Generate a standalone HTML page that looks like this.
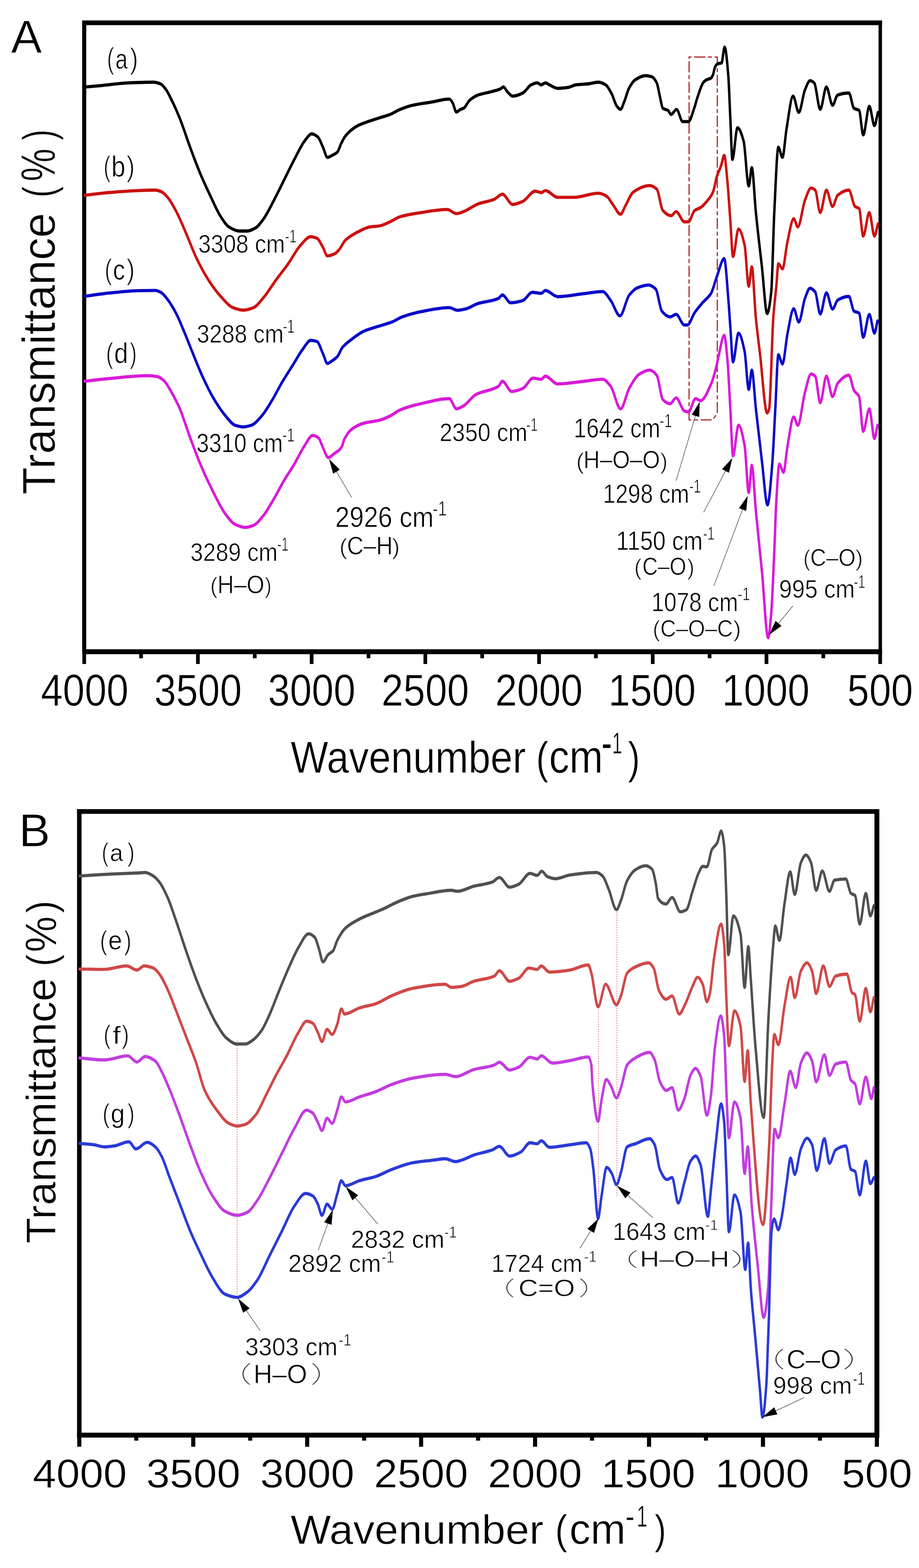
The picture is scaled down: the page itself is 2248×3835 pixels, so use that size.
<!DOCTYPE html>
<html><head><meta charset="utf-8"><title>FTIR spectra</title>
<style>html,body{margin:0;padding:0;background:#fff;}svg{display:block;}</style></head>
<body><svg xmlns="http://www.w3.org/2000/svg" width="2248" height="3835" viewBox="0 0 2248 3835">
<rect width="2248" height="3835" fill="#fff"/>
<rect x="201.0" y="50.0" width="1956.5" height="11.5" fill="#000"/>
<rect x="201.0" y="1588.0" width="1956.5" height="12.0" fill="#000"/>
<rect x="201.0" y="50.0" width="10.0" height="1550.0" fill="#000"/>
<rect x="2149.0" y="50.0" width="8.5" height="1550.0" fill="#000"/>
<rect x="201.5" y="1595.0" width="9.0" height="29.0" fill="#000"/>
<rect x="340.6" y="1595.0" width="9.0" height="15.0" fill="#000"/>
<rect x="479.6" y="1595.0" width="9.0" height="29.0" fill="#000"/>
<rect x="618.7" y="1595.0" width="9.0" height="15.0" fill="#000"/>
<rect x="757.8" y="1595.0" width="9.0" height="29.0" fill="#000"/>
<rect x="896.9" y="1595.0" width="9.0" height="15.0" fill="#000"/>
<rect x="1035.9" y="1595.0" width="9.0" height="29.0" fill="#000"/>
<rect x="1175.0" y="1595.0" width="9.0" height="15.0" fill="#000"/>
<rect x="1314.1" y="1595.0" width="9.0" height="29.0" fill="#000"/>
<rect x="1453.1" y="1595.0" width="9.0" height="15.0" fill="#000"/>
<rect x="1592.2" y="1595.0" width="9.0" height="29.0" fill="#000"/>
<rect x="1731.3" y="1595.0" width="9.0" height="15.0" fill="#000"/>
<rect x="1870.4" y="1595.0" width="9.0" height="29.0" fill="#000"/>
<rect x="2009.4" y="1595.0" width="9.0" height="15.0" fill="#000"/>
<rect x="2148.5" y="1595.0" width="9.0" height="29.0" fill="#000"/>
<path d="M1685.6,1027 V139.5 H1754.6 V1011 L1743,1027 Z" fill="none" stroke="#b03030" stroke-width="3" stroke-dasharray="27,6.5,10,6.5"/>
<path transform="scale(1,1.3)" d="M210.0,163.5 C223.3,162.6 236.7,161.7 250.0,160.8 C271.7,159.2 293.3,156.4 315.0,155.8 C335.0,155.2 355.0,154.6 375.0,154.6 C380.8,154.6 386.7,156.0 392.5,157.7 C396.7,158.9 400.8,163.2 405.0,167.3 C410.0,172.2 415.0,180.7 420.0,188.5 C426.7,198.8 433.3,210.3 440.0,223.1 C448.3,239.0 456.7,259.6 465.0,276.9 C473.3,294.2 481.7,311.6 490.0,326.9 C498.3,342.2 506.7,355.8 515.0,369.2 C523.3,382.7 531.7,397.9 540.0,407.7 C546.7,415.5 553.3,423.8 560.0,426.9 C568.3,430.9 576.7,434.6 585.0,434.6 C591.7,434.6 598.3,434.6 605.0,434.6 C611.7,434.6 618.3,431.7 625.0,428.8 C631.7,426.0 638.3,418.6 645.0,411.5 C653.3,402.7 661.7,389.1 670.0,376.9 C678.3,364.8 686.7,351.3 695.0,338.5 C703.3,325.6 711.7,312.1 720.0,300.0 C728.3,287.9 736.7,273.5 745.0,265.4 C750.8,259.7 756.7,251.9 762.5,251.9 C767.5,251.9 772.5,254.6 777.5,257.7 C781.7,260.3 785.8,270.1 790.0,276.9 C793.7,282.9 797.3,296.2 801.0,296.2 C804.8,296.2 808.7,293.8 812.5,292.3 C816.7,290.7 820.8,289.6 825.0,286.5 C828.3,284.1 831.7,274.3 835.0,269.2 C838.3,264.2 841.7,258.8 845.0,255.8 C855.0,246.5 865.0,240.7 875.0,236.5 C883.3,233.1 891.7,231.2 900.0,228.8 C909.7,226.2 919.3,223.9 929.0,221.5 C937.3,219.5 945.7,217.9 954.0,215.4 C962.3,212.9 970.7,208.3 979.0,205.8 C989.0,202.7 999.0,199.8 1009.0,198.1 C1024.0,195.5 1039.0,194.2 1054.0,192.3 C1069.0,190.4 1084.0,186.5 1099.0,186.5 C1101.5,186.5 1104.0,189.6 1106.5,192.3 C1109.8,195.9 1113.2,210.8 1116.5,210.8 C1119.8,210.8 1123.2,206.9 1126.5,205.8 C1129.0,204.9 1131.5,204.8 1134.0,203.8 C1139.0,201.9 1144.0,191.8 1149.0,188.5 C1155.7,184.0 1162.3,180.7 1169.0,178.8 C1179.0,176.0 1189.0,175.2 1199.0,173.1 C1207.3,171.3 1215.7,170.2 1224.0,167.3 C1226.5,166.5 1229.0,163.5 1231.5,163.5 C1234.8,163.5 1238.2,170.6 1241.5,173.1 C1245.7,176.2 1249.8,180.8 1254.0,180.8 C1262.3,180.8 1270.7,178.0 1279.0,175.0 C1285.7,172.6 1292.3,162.1 1299.0,159.6 C1304.0,157.7 1309.0,155.8 1314.0,155.8 C1317.3,155.8 1320.7,159.6 1324.0,159.6 C1327.3,159.6 1330.7,155.8 1334.0,155.8 C1337.3,155.8 1340.7,158.4 1344.0,159.6 C1350.7,162.0 1357.3,166.2 1364.0,166.2 C1372.3,166.2 1380.7,165.5 1389.0,164.6 C1395.7,163.9 1402.3,160.3 1409.0,159.6 C1419.0,158.6 1429.0,158.5 1439.0,157.7 C1447.3,157.0 1455.7,154.6 1464.0,154.6 C1469.8,154.6 1475.7,156.9 1481.5,159.6 C1486.5,161.9 1491.5,169.8 1496.5,176.9 C1500.7,182.9 1504.8,196.1 1509.0,200.0 C1512.0,202.8 1515.0,205.8 1518.0,205.8 C1520.8,205.8 1523.7,197.4 1526.5,192.3 C1530.7,184.8 1534.8,171.2 1539.0,165.4 C1544.0,158.4 1549.0,152.5 1554.0,150.0 C1562.3,145.9 1570.7,142.3 1579.0,142.3 C1584.0,142.3 1589.0,143.1 1594.0,144.2 C1598.2,145.2 1602.3,149.4 1606.5,155.8 C1609.0,159.6 1611.5,172.8 1614.0,180.8 C1616.5,188.8 1619.0,202.3 1621.5,203.8 C1625.7,206.3 1629.8,205.6 1634.0,207.7 C1636.5,208.9 1639.0,215.4 1641.5,215.4 C1646.0,215.4 1650.5,205.8 1655.0,205.8 C1660.0,205.8 1665.0,228.8 1670.0,228.8 C1674.7,228.8 1679.3,228.8 1684.0,228.8 C1689.0,228.8 1694.0,212.5 1699.0,201.5 C1701.2,196.8 1703.3,189.5 1705.5,184.6 C1710.7,172.9 1715.8,159.3 1721.0,154.6 C1723.2,152.6 1725.3,151.3 1727.5,150.4 C1731.5,148.7 1735.5,148.9 1739.5,146.7 C1741.0,145.9 1742.5,143.4 1744.0,140.8 C1745.8,137.5 1747.7,127.8 1749.5,125.4 C1751.7,122.5 1753.8,120.3 1756.0,119.8 C1759.0,119.0 1762.0,119.3 1765.0,118.5 C1767.5,117.7 1770.0,88.5 1772.5,88.5 C1775.5,88.5 1778.5,114.9 1781.5,142.3 C1783.2,157.5 1784.8,196.8 1786.5,223.1 C1788.2,249.3 1789.8,300.0 1791.5,300.0 C1795.7,300.0 1799.8,240.4 1804.0,240.4 C1809.0,240.4 1814.0,251.8 1819.0,265.4 C1823.2,276.7 1827.3,350.0 1831.5,350.0 C1834.0,350.0 1836.5,315.4 1839.0,315.4 C1842.3,315.4 1845.7,374.4 1849.0,400.0 C1854.0,438.3 1859.0,469.3 1864.0,503.8 C1868.2,532.6 1872.3,590.0 1876.5,590.0 C1879.8,590.0 1883.2,573.0 1886.5,550.0 C1889.0,532.8 1891.5,438.5 1894.0,400.0 C1897.3,348.6 1900.7,276.9 1904.0,276.9 C1907.3,276.9 1910.7,296.2 1914.0,296.2 C1917.3,296.2 1920.7,257.5 1924.0,242.3 C1929.3,218.1 1934.7,180.8 1940.0,180.8 C1944.7,180.8 1949.3,211.5 1954.0,211.5 C1959.0,211.5 1964.0,178.4 1969.0,169.2 C1973.2,161.6 1977.3,151.9 1981.5,151.9 C1984.8,151.9 1988.2,153.6 1991.5,155.8 C1996.5,159.0 2001.5,205.8 2006.5,205.8 C2011.5,205.8 2016.5,163.5 2021.5,163.5 C2026.5,163.5 2031.5,198.1 2036.5,198.1 C2040.7,198.1 2044.8,180.0 2049.0,178.8 C2058.2,176.2 2067.3,175.0 2076.5,175.0 C2080.7,175.0 2084.8,201.6 2089.0,203.8 C2093.2,206.1 2097.3,205.2 2101.5,207.7 C2104.8,209.7 2108.2,253.8 2111.5,253.8 C2116.5,253.8 2121.5,200.0 2126.5,200.0 C2130.7,200.0 2134.8,236.5 2139.0,236.5 C2141.8,236.5 2144.7,219.9 2147.5,211.5" fill="none" stroke="#000000" stroke-width="6" stroke-linejoin="round" stroke-linecap="round"/>
<path transform="scale(1,1.3)" d="M207.5,367.3 C226.7,365.6 245.8,363.6 265.0,362.3 C290.0,360.7 315.0,359.1 340.0,358.5 C353.3,358.1 366.7,357.7 380.0,357.7 C385.0,357.7 390.0,359.2 395.0,360.8 C400.0,362.4 405.0,366.8 410.0,371.2 C416.7,377.0 423.3,386.6 430.0,396.2 C438.3,408.1 446.7,423.7 455.0,438.5 C463.3,453.2 471.7,471.2 480.0,484.6 C490.0,500.7 500.0,515.0 510.0,526.9 C520.0,538.8 530.0,549.3 540.0,557.7 C550.0,566.0 560.0,576.0 570.0,578.8 C578.3,581.2 586.7,583.5 595.0,583.5 C603.3,583.5 611.7,581.3 620.0,578.8 C628.3,576.4 636.7,567.1 645.0,559.6 C655.0,550.6 665.0,537.5 675.0,526.9 C685.0,516.4 695.0,507.0 705.0,496.2 C715.0,485.3 725.0,469.8 735.0,461.5 C743.3,454.7 751.7,445.4 760.0,445.4 C765.0,445.4 770.0,446.5 775.0,448.1 C780.0,449.6 785.0,458.9 790.0,465.4 C793.7,470.2 797.3,481.5 801.0,481.5 C807.3,481.5 813.7,479.4 820.0,476.9 C823.3,475.6 826.7,472.3 830.0,469.2 C835.0,464.7 840.0,455.6 845.0,451.9 C855.0,444.5 865.0,440.5 875.0,436.5 C885.0,432.6 895.0,428.2 905.0,426.9 C913.0,425.9 921.0,426.0 929.0,425.0 C937.3,423.9 945.7,420.2 954.0,417.3 C962.3,414.5 970.7,409.6 979.0,407.7 C995.7,403.8 1012.3,401.9 1029.0,400.0 C1050.7,397.5 1072.3,394.2 1094.0,394.2 C1101.5,394.2 1109.0,401.9 1116.5,401.9 C1122.3,401.9 1128.2,399.7 1134.0,398.1 C1145.7,394.9 1157.3,387.2 1169.0,383.8 C1182.3,380.0 1195.7,379.2 1209.0,375.0 C1215.7,372.9 1222.3,365.4 1229.0,365.4 C1237.3,365.4 1245.7,384.6 1254.0,384.6 C1262.3,384.6 1270.7,381.6 1279.0,378.8 C1289.0,375.5 1299.0,359.6 1309.0,359.6 C1314.0,359.6 1319.0,362.3 1324.0,362.3 C1327.3,362.3 1330.7,358.5 1334.0,358.5 C1344.0,358.5 1354.0,371.2 1364.0,371.2 C1377.3,371.2 1390.7,371.2 1404.0,371.2 C1424.0,371.2 1444.0,363.5 1464.0,363.5 C1470.7,363.5 1477.3,366.1 1484.0,369.2 C1489.0,371.5 1494.0,379.6 1499.0,384.6 C1505.3,390.9 1511.7,403.1 1518.0,403.1 C1521.7,403.1 1525.3,393.4 1529.0,388.5 C1535.7,379.6 1542.3,365.1 1549.0,361.5 C1562.3,354.4 1575.7,349.2 1589.0,349.2 C1594.8,349.2 1600.7,351.9 1606.5,355.8 C1611.5,359.1 1616.5,391.9 1621.5,396.2 C1628.2,401.8 1634.8,405.8 1641.5,405.8 C1645.7,405.8 1649.8,398.1 1654.0,398.1 C1660.7,398.1 1667.3,417.3 1674.0,417.3 C1677.3,417.3 1680.7,417.3 1684.0,417.3 C1689.0,417.3 1694.0,399.2 1699.0,396.2 C1704.0,393.1 1709.0,392.9 1714.0,390.4 C1719.0,387.8 1724.0,383.5 1729.0,378.8 C1734.0,374.2 1739.0,370.2 1744.0,361.5 C1747.3,355.8 1750.7,338.7 1754.0,330.8 C1757.3,322.9 1760.7,318.9 1764.0,311.5 C1766.5,306.0 1769.0,292.3 1771.5,292.3 C1774.0,292.3 1776.5,319.2 1779.0,338.5 C1781.5,357.7 1784.0,389.6 1786.5,415.4 C1788.7,437.7 1790.8,482.7 1793.0,482.7 C1797.5,482.7 1802.0,430.8 1806.5,430.8 C1811.5,430.8 1816.5,444.7 1821.5,461.5 C1824.8,472.8 1828.2,538.5 1831.5,538.5 C1834.0,538.5 1836.5,501.9 1839.0,501.9 C1842.3,501.9 1845.7,572.5 1849.0,598.8 C1852.3,625.1 1855.7,643.6 1859.0,665.4 C1864.8,703.4 1870.7,776.9 1876.5,776.9 C1878.2,776.9 1879.8,773.5 1881.5,769.2 C1884.8,760.6 1888.2,634.7 1891.5,598.8 C1894.0,572.0 1896.5,559.1 1899.0,538.5 C1900.7,524.7 1902.3,496.2 1904.0,496.2 C1907.3,496.2 1910.7,505.8 1914.0,505.8 C1918.2,505.8 1922.3,467.9 1926.5,453.8 C1931.5,436.9 1936.5,411.5 1941.5,411.5 C1944.8,411.5 1948.2,426.9 1951.5,426.9 C1957.3,426.9 1963.2,388.5 1969.0,376.9 C1974.0,367.0 1979.0,353.8 1984.0,353.8 C1987.3,353.8 1990.7,355.5 1994.0,357.7 C1998.2,360.5 2002.3,400.0 2006.5,400.0 C2011.5,400.0 2016.5,357.7 2021.5,357.7 C2026.5,357.7 2031.5,388.5 2036.5,388.5 C2040.7,388.5 2044.8,369.9 2049.0,367.3 C2058.2,361.5 2067.3,357.7 2076.5,357.7 C2081.5,357.7 2086.5,385.4 2091.5,388.5 C2094.8,390.5 2098.2,389.9 2101.5,392.3 C2104.8,394.7 2108.2,444.2 2111.5,444.2 C2116.5,444.2 2121.5,400.0 2126.5,400.0 C2130.7,400.0 2134.8,444.2 2139.0,444.2 C2141.8,444.2 2144.7,428.8 2147.5,421.2" fill="none" stroke="#cc1111" stroke-width="6" stroke-linejoin="round" stroke-linecap="round"/>
<path transform="scale(1,1.3)" d="M207.5,557.3 C226.7,555.4 245.8,553.0 265.0,551.5 C290.0,549.6 315.0,547.3 340.0,546.9 C353.3,546.7 366.7,546.5 380.0,546.5 C385.0,546.5 390.0,548.7 395.0,550.8 C400.0,552.9 405.0,558.5 410.0,563.5 C416.7,570.1 423.3,578.8 430.0,588.5 C436.7,598.1 443.3,610.9 450.0,623.1 C456.7,635.2 463.3,649.0 470.0,661.5 C478.3,677.2 486.7,693.7 495.0,707.7 C503.3,721.7 511.7,735.1 520.0,746.2 C530.0,759.4 540.0,771.6 550.0,780.8 C558.3,788.4 566.7,797.9 575.0,800.0 C581.7,801.7 588.3,803.1 595.0,803.1 C601.7,803.1 608.3,801.6 615.0,800.0 C623.3,798.0 631.7,789.9 640.0,782.7 C648.3,775.5 656.7,764.3 665.0,753.8 C673.3,743.4 681.7,730.1 690.0,719.2 C698.3,708.4 706.7,698.7 715.0,688.5 C723.3,678.2 731.7,666.1 740.0,657.7 C746.7,651.0 753.3,640.4 760.0,640.4 C765.0,640.4 770.0,641.1 775.0,642.3 C780.0,643.5 785.0,657.3 790.0,665.4 C793.7,671.3 797.3,683.8 801.0,683.8 C804.8,683.8 808.7,680.8 812.5,678.8 C816.7,676.7 820.8,674.7 825.0,671.2 C829.2,667.6 833.3,657.8 837.5,653.8 C845.0,646.8 852.5,642.9 860.0,638.5 C870.0,632.6 880.0,626.5 890.0,623.1 C903.0,618.6 916.0,616.3 929.0,613.1 C939.0,610.6 949.0,608.8 959.0,605.8 C967.3,603.3 975.7,598.5 984.0,596.2 C999.0,591.9 1014.0,588.8 1029.0,586.5 C1052.3,583.1 1075.7,578.8 1099.0,578.8 C1105.7,578.8 1112.3,583.8 1119.0,583.8 C1125.7,583.8 1132.3,582.4 1139.0,581.2 C1149.0,579.3 1159.0,573.6 1169.0,571.2 C1185.7,567.0 1202.3,567.2 1219.0,561.5 C1222.3,560.4 1225.7,555.0 1229.0,555.0 C1235.7,555.0 1242.3,569.6 1249.0,569.6 C1259.0,569.6 1269.0,567.8 1279.0,565.4 C1286.7,563.5 1294.3,550.0 1302.0,550.0 C1309.3,550.0 1316.7,551.9 1324.0,551.9 C1327.3,551.9 1330.7,546.5 1334.0,546.5 C1344.0,546.5 1354.0,558.1 1364.0,558.1 C1385.7,558.1 1407.3,554.2 1429.0,552.3 C1444.0,551.0 1459.0,548.5 1474.0,548.5 C1480.7,548.5 1487.3,558.6 1494.0,565.4 C1501.5,573.0 1509.0,594.2 1516.5,594.2 C1524.0,594.2 1531.5,562.7 1539.0,555.4 C1545.7,548.9 1552.3,543.7 1559.0,541.5 C1568.0,538.7 1577.0,536.2 1586.0,536.2 C1592.0,536.2 1598.0,539.3 1604.0,543.8 C1609.0,547.6 1614.0,580.7 1619.0,585.4 C1625.7,591.6 1632.3,596.2 1639.0,596.2 C1644.0,596.2 1649.0,591.5 1654.0,591.5 C1660.7,591.5 1667.3,611.5 1674.0,611.5 C1676.5,611.5 1679.0,611.5 1681.5,611.5 C1687.3,611.5 1693.2,595.0 1699.0,588.5 C1705.7,581.0 1712.3,575.2 1719.0,569.2 C1725.7,563.2 1732.3,560.6 1739.0,552.3 C1744.0,546.1 1749.0,529.4 1754.0,519.2 C1759.8,507.4 1765.7,486.5 1771.5,486.5 C1774.8,486.5 1778.2,531.5 1781.5,561.5 C1783.2,576.6 1784.8,598.0 1786.5,615.4 C1788.7,638.0 1790.8,680.8 1793.0,680.8 C1797.5,680.8 1802.0,626.9 1806.5,626.9 C1811.5,626.9 1816.5,643.5 1821.5,661.5 C1824.8,673.6 1828.2,732.7 1831.5,732.7 C1834.0,732.7 1836.5,696.2 1839.0,696.2 C1842.3,696.2 1845.7,745.9 1849.0,769.2 C1854.0,804.2 1859.0,837.7 1864.0,869.2 C1868.5,897.6 1873.0,950.0 1877.5,950.0 C1881.3,950.0 1885.2,908.5 1889.0,873.1 C1891.5,850.0 1894.0,803.5 1896.5,769.2 C1899.0,734.9 1901.5,667.3 1904.0,667.3 C1907.3,667.3 1910.7,684.6 1914.0,684.6 C1918.2,684.6 1922.3,642.4 1926.5,626.9 C1931.5,608.3 1936.5,580.8 1941.5,580.8 C1945.7,580.8 1949.8,605.8 1954.0,605.8 C1959.0,605.8 1964.0,571.6 1969.0,561.5 C1973.2,553.2 1977.3,542.3 1981.5,542.3 C1985.7,542.3 1989.8,545.3 1994.0,549.2 C1998.2,553.2 2002.3,590.8 2006.5,590.8 C2011.5,590.8 2016.5,550.8 2021.5,550.8 C2026.5,550.8 2031.5,581.5 2036.5,581.5 C2040.7,581.5 2044.8,566.6 2049.0,564.6 C2058.2,560.4 2067.3,557.7 2076.5,557.7 C2080.7,557.7 2084.8,583.1 2089.0,585.4 C2093.2,587.6 2097.3,586.7 2101.5,589.2 C2104.8,591.2 2108.2,634.6 2111.5,634.6 C2116.5,634.6 2121.5,591.5 2126.5,591.5 C2130.7,591.5 2134.8,626.9 2139.0,626.9 C2141.5,626.9 2144.0,611.5 2146.5,603.8" fill="none" stroke="#0808c8" stroke-width="6" stroke-linejoin="round" stroke-linecap="round"/>
<path transform="scale(1,1.3)" d="M207.5,717.3 C226.7,715.6 245.8,713.6 265.0,712.3 C296.7,710.1 328.3,706.9 360.0,706.9 C368.3,706.9 376.7,707.5 385.0,708.5 C390.0,709.0 395.0,712.2 400.0,715.4 C406.7,719.7 413.3,729.7 420.0,738.5 C426.7,747.3 433.3,757.3 440.0,769.2 C448.3,784.1 456.7,805.8 465.0,823.1 C473.3,840.4 481.7,857.9 490.0,873.1 C500.0,891.3 510.0,907.8 520.0,923.1 C530.0,938.4 540.0,954.9 550.0,965.4 C558.3,974.1 566.7,983.5 575.0,986.5 C583.3,989.6 591.7,992.3 600.0,992.3 C606.7,992.3 613.3,990.5 620.0,988.5 C628.3,986.0 636.7,977.1 645.0,969.2 C653.3,961.3 661.7,949.3 670.0,938.5 C678.3,927.6 686.7,914.7 695.0,903.8 C703.3,893.0 711.7,883.9 720.0,873.1 C728.3,862.2 736.7,847.9 745.0,838.5 C751.7,830.9 758.3,819.2 765.0,819.2 C770.0,819.2 775.0,821.4 780.0,824.6 C782.7,826.3 785.3,834.2 788.0,838.5 C793.2,846.7 798.3,860.8 803.5,860.8 C808.3,860.8 813.2,855.7 818.0,853.1 C822.5,850.6 827.0,849.1 831.5,845.4 C833.3,843.9 835.2,841.5 837.0,838.5 C838.7,835.7 840.3,829.5 842.0,826.9 C848.0,817.5 854.0,811.2 860.0,807.7 C870.0,801.8 880.0,798.3 890.0,796.2 C903.0,793.3 916.0,793.1 929.0,790.4 C937.3,788.7 945.7,785.8 954.0,782.7 C962.3,779.6 970.7,773.8 979.0,771.2 C995.7,765.8 1012.3,762.5 1029.0,759.6 C1052.3,755.5 1075.7,750.0 1099.0,750.0 C1104.8,750.0 1110.7,769.2 1116.5,769.2 C1122.3,769.2 1128.2,766.0 1134.0,763.5 C1144.0,759.1 1154.0,746.5 1164.0,742.3 C1182.3,734.6 1200.7,736.0 1219.0,726.9 C1222.3,725.3 1225.7,717.3 1229.0,717.3 C1236.5,717.3 1244.0,736.5 1251.5,736.5 C1260.7,736.5 1269.8,733.8 1279.0,730.8 C1287.3,728.0 1295.7,711.5 1304.0,711.5 C1310.7,711.5 1317.3,713.5 1324.0,713.5 C1327.3,713.5 1330.7,707.7 1334.0,707.7 C1344.0,707.7 1354.0,722.3 1364.0,722.3 C1385.7,722.3 1407.3,719.1 1429.0,717.3 C1444.0,716.1 1459.0,713.5 1474.0,713.5 C1480.7,713.5 1487.3,720.5 1494.0,726.9 C1502.0,734.6 1510.0,769.2 1518.0,769.2 C1525.0,769.2 1532.0,740.3 1539.0,730.8 C1547.3,719.4 1555.7,707.8 1564.0,703.8 C1572.3,699.9 1580.7,696.2 1589.0,696.2 C1594.8,696.2 1600.7,700.4 1606.5,706.2 C1611.5,711.1 1616.5,748.0 1621.5,751.9 C1627.3,756.5 1633.2,759.6 1639.0,759.6 C1644.0,759.6 1649.0,748.5 1654.0,748.5 C1660.7,748.5 1667.3,771.0 1674.0,773.1 C1677.3,774.1 1680.7,775.0 1684.0,775.0 C1689.8,775.0 1695.7,750.0 1701.5,750.0 C1705.7,750.0 1709.8,753.8 1714.0,753.8 C1722.3,753.8 1730.7,737.3 1739.0,723.1 C1743.2,716.0 1747.3,704.7 1751.5,692.3 C1754.0,684.9 1756.5,673.3 1759.0,665.4 C1763.2,652.2 1767.3,630.8 1771.5,630.8 C1774.0,630.8 1776.5,653.5 1779.0,673.1 C1781.5,692.7 1784.0,736.2 1786.5,769.2 C1788.7,797.9 1790.8,857.7 1793.0,857.7 C1797.5,857.7 1802.0,800.0 1806.5,800.0 C1811.5,800.0 1816.5,817.8 1821.5,838.5 C1824.8,852.2 1828.2,926.9 1831.5,926.9 C1834.0,926.9 1836.5,875.4 1839.0,875.4 C1842.3,875.4 1845.7,934.3 1849.0,961.5 C1854.0,1002.3 1859.0,1037.2 1864.0,1076.9 C1869.0,1116.6 1874.0,1200.0 1879.0,1200.0 C1881.5,1200.0 1884.0,1175.8 1886.5,1153.8 C1889.0,1131.9 1891.5,1081.5 1894.0,1038.5 C1895.7,1009.8 1897.3,963.6 1899.0,942.3 C1901.5,910.4 1904.0,873.1 1906.5,873.1 C1909.8,873.1 1913.2,888.5 1916.5,888.5 C1919.8,888.5 1923.2,852.5 1926.5,838.5 C1931.5,817.3 1936.5,784.6 1941.5,784.6 C1944.8,784.6 1948.2,800.0 1951.5,800.0 C1957.3,800.0 1963.2,754.6 1969.0,738.5 C1974.0,724.6 1979.0,703.8 1984.0,703.8 C1987.3,703.8 1990.7,705.4 1994.0,707.7 C1998.2,710.5 2002.3,757.7 2006.5,757.7 C2011.5,757.7 2016.5,707.7 2021.5,707.7 C2026.5,707.7 2031.5,746.2 2036.5,746.2 C2040.7,746.2 2044.8,725.1 2049.0,721.2 C2058.2,712.5 2067.3,705.8 2076.5,705.8 C2080.7,705.8 2084.8,729.1 2089.0,734.6 C2093.2,740.1 2097.3,739.2 2101.5,746.2 C2104.8,751.7 2108.2,811.5 2111.5,811.5 C2116.5,811.5 2121.5,769.2 2126.5,769.2 C2130.7,769.2 2134.8,825.0 2139.0,825.0 C2141.5,825.0 2144.0,808.3 2146.5,800.0" fill="none" stroke="#d91ad9" stroke-width="6" stroke-linejoin="round" stroke-linecap="round"/>
<line x1="859.8" y1="1216.0" x2="821.0" y2="1150.2" stroke="#222" stroke-width="1.7" stroke-dasharray="2.5,1.2"/>
<polygon points="804.8,1122.6 831.3,1148.8 814.9,1158.4" fill="#000"/>
<line x1="1654.0" y1="1175.0" x2="1702.3" y2="1013.2" stroke="#222" stroke-width="1.7" stroke-dasharray="2.5,1.2"/>
<polygon points="1711.5,982.5 1710.3,1019.7 1692.1,1014.3" fill="#000"/>
<line x1="1721.5" y1="1252.5" x2="1776.6" y2="1148.3" stroke="#222" stroke-width="1.7" stroke-dasharray="2.5,1.2"/>
<polygon points="1791.5,1120.0 1783.1,1156.3 1766.3,1147.4" fill="#000"/>
<line x1="1746.5" y1="1432.5" x2="1817.8" y2="1242.5" stroke="#222" stroke-width="1.7" stroke-dasharray="2.5,1.2"/>
<polygon points="1829.0,1212.5 1825.3,1249.5 1807.5,1242.9" fill="#000"/>
<line x1="1939.0" y1="1482.5" x2="1901.8" y2="1527.8" stroke="#222" stroke-width="1.7" stroke-dasharray="2.5,1.2"/>
<polygon points="1881.5,1552.5 1897.0,1518.7 1911.7,1530.7" fill="#000"/>
<rect x="188.5" y="1979.0" width="1962.5" height="11.5" fill="#000"/>
<rect x="188.5" y="3504.0" width="1962.5" height="12.0" fill="#000"/>
<rect x="188.5" y="1979.0" width="11.0" height="1537.0" fill="#000"/>
<rect x="2139.0" y="1979.0" width="12.0" height="1537.0" fill="#000"/>
<rect x="189.0" y="3510.0" width="10.0" height="28.5" fill="#000"/>
<rect x="328.4" y="3510.0" width="10.0" height="13.5" fill="#000"/>
<rect x="467.7" y="3510.0" width="10.0" height="28.5" fill="#000"/>
<rect x="607.1" y="3510.0" width="10.0" height="13.5" fill="#000"/>
<rect x="746.4" y="3510.0" width="10.0" height="28.5" fill="#000"/>
<rect x="885.8" y="3510.0" width="10.0" height="13.5" fill="#000"/>
<rect x="1025.1" y="3510.0" width="10.0" height="28.5" fill="#000"/>
<rect x="1164.5" y="3510.0" width="10.0" height="13.5" fill="#000"/>
<rect x="1303.9" y="3510.0" width="10.0" height="28.5" fill="#000"/>
<rect x="1443.2" y="3510.0" width="10.0" height="13.5" fill="#000"/>
<rect x="1582.6" y="3510.0" width="10.0" height="28.5" fill="#000"/>
<rect x="1721.9" y="3510.0" width="10.0" height="13.5" fill="#000"/>
<rect x="1861.3" y="3510.0" width="10.0" height="28.5" fill="#000"/>
<rect x="2000.6" y="3510.0" width="10.0" height="13.5" fill="#000"/>
<rect x="2140.0" y="3510.0" width="10.0" height="28.5" fill="#000"/>
<line x1="580" y1="2545" x2="580" y2="3175" stroke="#d87070" stroke-width="1.6" stroke-dasharray="3,3"/>
<line x1="1464" y1="2462" x2="1464" y2="2980" stroke="#d87070" stroke-width="1.6" stroke-dasharray="3,3"/>
<line x1="1509" y1="2225" x2="1509" y2="2927" stroke="#d87070" stroke-width="1.6" stroke-dasharray="3,3"/>
<path transform="scale(1,1.3)" d="M195.0,1648.1 C206.7,1647.4 218.3,1646.7 230.0,1646.2 C246.7,1645.4 263.3,1644.8 280.0,1644.2 C300.0,1643.5 320.0,1643.1 340.0,1642.3 C345.0,1642.1 350.0,1641.5 355.0,1641.5 C361.7,1641.5 368.3,1645.0 375.0,1648.1 C380.0,1650.4 385.0,1654.7 390.0,1659.6 C396.7,1666.2 403.3,1677.0 410.0,1688.5 C416.7,1699.9 423.3,1716.1 430.0,1730.8 C438.3,1749.1 446.7,1769.9 455.0,1788.5 C463.3,1807.0 471.7,1825.7 480.0,1842.3 C488.3,1858.9 496.7,1874.5 505.0,1888.5 C513.3,1902.4 521.7,1916.4 530.0,1926.9 C538.3,1937.5 546.7,1948.9 555.0,1953.8 C563.3,1958.8 571.7,1964.2 580.0,1964.2 C586.7,1964.2 593.3,1964.2 600.0,1964.2 C606.7,1964.2 613.3,1959.6 620.0,1955.8 C626.7,1952.0 633.3,1945.8 640.0,1938.5 C646.7,1931.1 653.3,1919.1 660.0,1907.7 C666.7,1896.3 673.3,1881.8 680.0,1869.2 C688.3,1853.5 696.7,1837.4 705.0,1823.1 C713.3,1808.7 721.7,1793.2 730.0,1782.7 C738.3,1772.2 746.7,1756.9 755.0,1756.9 C760.0,1756.9 765.0,1759.7 770.0,1763.5 C773.3,1766.0 776.7,1777.0 780.0,1784.6 C783.3,1792.3 786.7,1809.6 790.0,1809.6 C794.2,1809.6 798.3,1799.4 802.5,1796.2 C806.7,1792.9 810.8,1792.4 815.0,1788.5 C818.3,1785.3 821.7,1774.2 825.0,1769.2 C831.7,1759.3 838.3,1750.9 845.0,1746.2 C856.7,1737.8 868.3,1733.5 880.0,1728.8 C892.8,1723.8 905.7,1720.4 918.5,1716.2 C927.0,1713.3 935.5,1710.7 944.0,1707.7 C952.3,1704.7 960.7,1700.9 969.0,1698.1 C982.3,1693.6 995.7,1689.1 1009.0,1686.5 C1020.7,1684.3 1032.3,1683.0 1044.0,1681.5 C1064.0,1679.0 1084.0,1675.0 1104.0,1675.0 C1109.0,1675.0 1114.0,1676.9 1119.0,1676.9 C1132.3,1676.9 1145.7,1670.0 1159.0,1667.3 C1174.0,1664.3 1189.0,1663.7 1204.0,1659.6 C1209.8,1658.0 1215.7,1650.8 1221.5,1650.8 C1229.8,1650.8 1238.2,1669.2 1246.5,1669.2 C1254.0,1669.2 1261.5,1666.3 1269.0,1663.5 C1278.2,1660.0 1287.3,1643.1 1296.5,1643.1 C1302.3,1643.1 1308.2,1646.9 1314.0,1646.9 C1317.7,1646.9 1321.3,1639.2 1325.0,1639.2 C1329.7,1639.2 1334.3,1647.8 1339.0,1649.2 C1345.7,1651.3 1352.3,1653.1 1359.0,1653.1 C1370.7,1653.1 1382.3,1647.4 1394.0,1646.2 C1415.7,1643.8 1437.3,1641.5 1459.0,1641.5 C1464.0,1641.5 1469.0,1644.6 1474.0,1648.1 C1479.0,1651.5 1484.0,1664.0 1489.0,1673.1 C1495.3,1684.6 1501.7,1711.5 1508.0,1711.5 C1511.7,1711.5 1515.3,1700.9 1519.0,1693.8 C1524.0,1684.2 1529.0,1664.3 1534.0,1656.9 C1540.7,1647.1 1547.3,1639.8 1554.0,1636.5 C1562.3,1632.5 1570.7,1628.8 1579.0,1628.8 C1584.3,1628.8 1589.7,1631.3 1595.0,1635.4 C1598.0,1637.7 1601.0,1650.4 1604.0,1661.5 C1606.0,1668.9 1608.0,1688.6 1610.0,1690.8 C1616.3,1697.8 1622.7,1700.8 1629.0,1700.8 C1634.0,1700.8 1639.0,1688.5 1644.0,1688.5 C1650.7,1688.5 1657.3,1715.4 1664.0,1715.4 C1669.0,1715.4 1674.0,1713.8 1679.0,1711.5 C1684.0,1709.2 1689.0,1688.5 1694.0,1676.9 C1699.0,1665.4 1704.0,1650.2 1709.0,1642.3 C1712.3,1637.1 1715.7,1630.0 1719.0,1630.0 C1722.3,1630.0 1725.7,1630.8 1729.0,1630.8 C1733.2,1630.8 1737.3,1603.8 1741.5,1598.1 C1745.7,1592.4 1749.8,1592.1 1754.0,1586.5 C1757.3,1582.1 1760.7,1563.5 1764.0,1563.5 C1766.5,1563.5 1769.0,1575.8 1771.5,1592.3 C1773.2,1603.3 1774.8,1647.4 1776.5,1680.8 C1778.2,1714.2 1779.8,1796.2 1781.5,1796.2 C1785.7,1796.2 1789.8,1723.1 1794.0,1723.1 C1799.8,1723.1 1805.7,1737.2 1811.5,1757.7 C1814.8,1769.4 1818.2,1857.7 1821.5,1857.7 C1824.5,1857.7 1827.5,1780.8 1830.5,1780.8 C1832.5,1780.8 1834.5,1821.1 1836.5,1842.3 C1840.3,1882.9 1844.2,1936.7 1848.0,1969.2 C1854.7,2025.8 1861.3,2102.3 1868.0,2102.3 C1872.0,2102.3 1876.0,1965.4 1880.0,1911.5 C1883.8,1859.9 1887.7,1809.2 1891.5,1776.9 C1893.2,1762.9 1894.8,1742.3 1896.5,1742.3 C1899.8,1742.3 1903.2,1769.2 1906.5,1769.2 C1910.7,1769.2 1914.8,1720.1 1919.0,1700.0 C1923.7,1677.5 1928.3,1640.4 1933.0,1640.4 C1936.7,1640.4 1940.3,1682.7 1944.0,1682.7 C1949.0,1682.7 1954.0,1632.0 1959.0,1623.1 C1963.2,1615.7 1967.3,1608.5 1971.5,1608.5 C1975.7,1608.5 1979.8,1615.5 1984.0,1623.1 C1988.2,1630.7 1992.3,1675.0 1996.5,1675.0 C2001.5,1675.0 2006.5,1638.5 2011.5,1638.5 C2017.3,1638.5 2023.2,1676.9 2029.0,1676.9 C2033.2,1676.9 2037.3,1656.4 2041.5,1655.8 C2050.7,1654.4 2059.8,1653.8 2069.0,1653.8 C2073.2,1653.8 2077.3,1678.1 2081.5,1680.8 C2084.8,1682.9 2088.2,1682.3 2091.5,1684.6 C2095.3,1687.3 2099.2,1738.5 2103.0,1738.5 C2108.0,1738.5 2113.0,1680.8 2118.0,1680.8 C2121.7,1680.8 2125.3,1723.1 2129.0,1723.1 C2131.8,1723.1 2134.7,1710.3 2137.5,1703.8" fill="none" stroke="#505050" stroke-width="6" stroke-linejoin="round" stroke-linecap="round"/>
<path transform="scale(1,1.3)" d="M195.0,1823.1 C215.0,1823.3 235.0,1823.8 255.0,1823.8 C273.3,1823.8 291.7,1817.3 310.0,1817.3 C318.3,1817.3 326.7,1825.0 335.0,1825.0 C340.8,1825.0 346.7,1817.3 352.5,1817.3 C360.0,1817.3 367.5,1819.0 375.0,1821.2 C380.0,1822.6 385.0,1827.7 390.0,1832.7 C396.7,1839.3 403.3,1850.5 410.0,1861.5 C416.7,1872.5 423.3,1886.9 430.0,1900.0 C438.3,1916.3 446.7,1933.3 455.0,1950.0 C463.3,1966.7 471.7,1981.4 480.0,2000.0 C486.7,2014.9 493.3,2038.5 500.0,2050.0 C510.0,2067.3 520.0,2078.4 530.0,2088.5 C540.0,2098.6 550.0,2109.7 560.0,2113.5 C566.7,2115.9 573.3,2118.5 580.0,2118.5 C586.7,2118.5 593.3,2117.0 600.0,2115.4 C608.3,2113.3 616.7,2105.9 625.0,2098.1 C633.3,2090.2 641.7,2074.0 650.0,2061.5 C658.3,2049.0 666.7,2035.2 675.0,2023.1 C683.3,2010.9 691.7,2000.6 700.0,1988.5 C710.0,1973.9 720.0,1954.7 730.0,1942.3 C736.7,1934.1 743.3,1921.2 750.0,1921.2 C755.0,1921.2 760.0,1922.8 765.0,1925.0 C769.2,1926.8 773.3,1935.9 777.5,1942.3 C780.8,1947.5 784.2,1959.6 787.5,1959.6 C791.7,1959.6 795.8,1936.5 800.0,1936.5 C804.2,1936.5 808.3,1946.2 812.5,1946.2 C816.7,1946.2 820.8,1935.4 825.0,1926.9 C828.3,1920.2 831.7,1898.1 835.0,1898.1 C837.5,1898.1 840.0,1907.7 842.5,1907.7 C855.0,1907.7 867.5,1899.2 880.0,1896.2 C893.0,1893.0 906.0,1891.8 919.0,1888.5 C932.3,1885.0 945.7,1877.3 959.0,1873.1 C975.7,1867.8 992.3,1862.1 1009.0,1859.6 C1035.7,1855.7 1062.3,1851.9 1089.0,1851.9 C1094.0,1851.9 1099.0,1857.7 1104.0,1857.7 C1112.3,1857.7 1120.7,1856.8 1129.0,1855.8 C1139.0,1854.6 1149.0,1848.6 1159.0,1846.2 C1175.7,1842.1 1192.3,1842.5 1209.0,1836.5 C1213.2,1835.1 1217.3,1826.2 1221.5,1826.2 C1229.8,1826.2 1238.2,1846.2 1246.5,1846.2 C1254.0,1846.2 1261.5,1843.2 1269.0,1840.4 C1277.3,1837.2 1285.7,1821.2 1294.0,1821.2 C1300.7,1821.2 1307.3,1823.8 1314.0,1823.8 C1317.3,1823.8 1320.7,1817.3 1324.0,1817.3 C1330.7,1817.3 1337.3,1828.8 1344.0,1828.8 C1360.7,1828.8 1377.3,1826.9 1394.0,1825.0 C1409.0,1823.3 1424.0,1815.4 1439.0,1815.4 C1441.5,1815.4 1444.0,1824.3 1446.5,1830.8 C1452.0,1844.9 1457.5,1894.2 1463.0,1894.2 C1469.2,1894.2 1475.3,1851.9 1481.5,1851.9 C1490.3,1851.9 1499.2,1890.4 1508.0,1890.4 C1511.7,1890.4 1515.3,1880.4 1519.0,1873.1 C1524.0,1863.1 1529.0,1835.7 1534.0,1830.8 C1540.7,1824.2 1547.3,1821.5 1554.0,1819.2 C1564.8,1815.5 1575.7,1811.5 1586.5,1811.5 C1590.7,1811.5 1594.8,1816.2 1599.0,1821.5 C1603.3,1827.1 1607.7,1857.3 1612.0,1863.8 C1617.7,1872.4 1623.3,1880.0 1629.0,1880.0 C1634.0,1880.0 1639.0,1873.8 1644.0,1873.8 C1649.8,1873.8 1655.7,1907.7 1661.5,1907.7 C1666.5,1907.7 1671.5,1896.0 1676.5,1888.5 C1682.3,1879.6 1688.2,1865.0 1694.0,1855.8 C1698.2,1849.2 1702.3,1838.5 1706.5,1838.5 C1710.7,1838.5 1714.8,1845.0 1719.0,1851.9 C1722.3,1857.4 1725.7,1884.6 1729.0,1884.6 C1731.5,1884.6 1734.0,1876.8 1736.5,1869.2 C1739.8,1859.1 1743.2,1820.1 1746.5,1803.8 C1752.3,1775.4 1758.2,1738.5 1764.0,1738.5 C1766.5,1738.5 1769.0,1755.9 1771.5,1776.9 C1773.2,1791.0 1774.8,1845.4 1776.5,1873.1 C1778.7,1909.1 1780.8,1967.3 1783.0,1967.3 C1787.5,1967.3 1792.0,1901.9 1796.5,1901.9 C1801.5,1901.9 1806.5,1913.8 1811.5,1930.8 C1814.8,1942.1 1818.2,2034.6 1821.5,2034.6 C1824.0,2034.6 1826.5,1976.9 1829.0,1976.9 C1831.5,1976.9 1834.0,2050.3 1836.5,2075.8 C1846.5,2177.7 1856.5,2303.8 1866.5,2303.8 C1871.5,2303.8 1876.5,2223.7 1881.5,2153.8 C1884.0,2118.9 1886.5,2034.6 1889.0,2000.0 C1890.7,1976.9 1892.3,1946.2 1894.0,1946.2 C1897.3,1946.2 1900.7,1965.4 1904.0,1965.4 C1909.0,1965.4 1914.0,1913.0 1919.0,1892.3 C1924.0,1871.6 1929.0,1838.5 1934.0,1838.5 C1937.3,1838.5 1940.7,1876.9 1944.0,1876.9 C1949.0,1876.9 1954.0,1834.8 1959.0,1826.9 C1964.0,1819.1 1969.0,1811.5 1974.0,1811.5 C1978.2,1811.5 1982.3,1818.8 1986.5,1826.9 C1989.8,1833.4 1993.2,1869.2 1996.5,1869.2 C2002.3,1869.2 2008.2,1817.3 2014.0,1817.3 C2019.0,1817.3 2024.0,1855.8 2029.0,1855.8 C2034.0,1855.8 2039.0,1837.9 2044.0,1836.5 C2053.2,1834.0 2062.3,1832.7 2071.5,1832.7 C2075.7,1832.7 2079.8,1863.9 2084.0,1867.3 C2086.5,1869.4 2089.0,1869.0 2091.5,1871.2 C2095.3,1874.5 2099.2,1921.2 2103.0,1921.2 C2108.0,1921.2 2113.0,1859.6 2118.0,1859.6 C2121.7,1859.6 2125.3,1903.8 2129.0,1903.8 C2131.8,1903.8 2134.7,1885.9 2137.5,1876.9" fill="none" stroke="#d04848" stroke-width="6" stroke-linejoin="round" stroke-linecap="round"/>
<path transform="scale(1,1.3)" d="M195.0,1990.4 C215.0,1991.7 235.0,1994.2 255.0,1994.2 C274.2,1994.2 293.3,1986.5 312.5,1986.5 C320.0,1986.5 327.5,1998.1 335.0,1998.1 C341.7,1998.1 348.3,1987.7 355.0,1987.7 C363.3,1987.7 371.7,1991.5 380.0,1996.2 C385.0,1999.0 390.0,2008.1 395.0,2015.4 C401.7,2025.1 408.3,2037.7 415.0,2050.0 C423.3,2065.4 431.7,2082.7 440.0,2100.0 C448.3,2117.3 456.7,2136.6 465.0,2153.8 C473.3,2171.1 481.7,2189.3 490.0,2203.8 C500.0,2221.3 510.0,2238.2 520.0,2250.0 C530.0,2261.8 540.0,2274.8 550.0,2278.8 C560.0,2282.9 570.0,2286.5 580.0,2286.5 C588.3,2286.5 596.7,2283.8 605.0,2280.8 C613.3,2277.7 621.7,2266.9 630.0,2257.7 C640.0,2246.6 650.0,2230.1 660.0,2215.4 C670.0,2200.7 680.0,2184.6 690.0,2169.2 C700.0,2153.8 710.0,2136.3 720.0,2123.1 C730.0,2109.9 740.0,2088.5 750.0,2088.5 C755.0,2088.5 760.0,2091.2 765.0,2094.2 C769.2,2096.8 773.3,2105.5 777.5,2111.5 C780.8,2116.4 784.2,2126.9 787.5,2126.9 C791.7,2126.9 795.8,2103.8 800.0,2103.8 C804.2,2103.8 808.3,2113.5 812.5,2113.5 C816.7,2113.5 820.8,2097.8 825.0,2088.5 C828.3,2081.0 831.7,2063.5 835.0,2063.5 C838.3,2063.5 841.7,2073.1 845.0,2073.1 C856.7,2073.1 868.3,2066.5 880.0,2063.5 C893.0,2060.1 906.0,2057.6 919.0,2053.8 C932.3,2050.0 945.7,2043.7 959.0,2040.0 C975.7,2035.4 992.3,2030.7 1009.0,2028.5 C1035.7,2024.9 1062.3,2021.2 1089.0,2021.2 C1097.3,2021.2 1105.7,2025.4 1114.0,2025.4 C1129.0,2025.4 1144.0,2015.5 1159.0,2012.3 C1175.7,2008.7 1192.3,2008.3 1209.0,2003.8 C1213.2,2002.7 1217.3,1998.5 1221.5,1998.5 C1229.8,1998.5 1238.2,2013.1 1246.5,2013.1 C1254.0,2013.1 1261.5,2010.3 1269.0,2007.7 C1278.2,2004.5 1287.3,1989.2 1296.5,1989.2 C1302.3,1989.2 1308.2,1992.3 1314.0,1992.3 C1317.3,1992.3 1320.7,1986.5 1324.0,1986.5 C1333.2,1986.5 1342.3,2000.0 1351.5,2000.0 C1365.7,2000.0 1379.8,1997.2 1394.0,1995.4 C1409.0,1993.5 1424.0,1988.5 1439.0,1988.5 C1441.5,1988.5 1444.0,1993.7 1446.5,2003.8 C1447.3,2007.2 1448.2,2031.5 1449.0,2038.5 C1453.7,2077.3 1458.3,2109.6 1463.0,2109.6 C1465.8,2109.6 1468.7,2080.5 1471.5,2069.2 C1475.3,2054.1 1479.2,2030.8 1483.0,2030.8 C1486.7,2030.8 1490.3,2037.6 1494.0,2042.3 C1498.7,2048.2 1503.3,2065.4 1508.0,2065.4 C1511.7,2065.4 1515.3,2054.0 1519.0,2046.2 C1524.0,2035.5 1529.0,2009.4 1534.0,2003.8 C1540.7,1996.4 1547.3,1993.2 1554.0,1990.4 C1565.7,1985.4 1577.3,1980.0 1589.0,1980.0 C1593.2,1980.0 1597.3,1987.2 1601.5,1994.2 C1605.7,2001.2 1609.8,2027.8 1614.0,2034.6 C1619.3,2043.3 1624.7,2051.5 1630.0,2051.5 C1634.7,2051.5 1639.3,2046.2 1644.0,2046.2 C1649.0,2046.2 1654.0,2088.5 1659.0,2088.5 C1664.0,2088.5 1669.0,2076.8 1674.0,2067.3 C1679.0,2057.8 1684.0,2030.7 1689.0,2023.1 C1693.2,2016.7 1697.3,2010.0 1701.5,2010.0 C1705.7,2010.0 1709.8,2017.4 1714.0,2025.4 C1719.0,2035.0 1724.0,2098.1 1729.0,2098.1 C1732.3,2098.1 1735.7,2079.0 1739.0,2061.5 C1742.3,2044.1 1745.7,1988.6 1749.0,1969.2 C1753.7,1942.1 1758.3,1911.5 1763.0,1911.5 C1765.8,1911.5 1768.7,1928.1 1771.5,1950.0 C1773.2,1962.9 1774.8,2018.4 1776.5,2046.2 C1778.7,2082.2 1780.8,2140.4 1783.0,2140.4 C1787.5,2140.4 1792.0,2073.1 1796.5,2073.1 C1801.5,2073.1 1806.5,2085.9 1811.5,2103.8 C1814.8,2115.8 1818.2,2207.7 1821.5,2207.7 C1824.0,2207.7 1826.5,2157.7 1829.0,2157.7 C1832.3,2157.7 1835.7,2238.5 1839.0,2269.2 C1844.0,2315.3 1849.0,2348.8 1854.0,2384.6 C1858.7,2418.0 1863.3,2478.5 1868.0,2478.5 C1871.7,2478.5 1875.3,2453.9 1879.0,2423.1 C1881.5,2402.1 1884.0,2317.3 1886.5,2269.2 C1889.2,2217.9 1891.8,2124.6 1894.5,2124.6 C1897.7,2124.6 1900.8,2140.4 1904.0,2140.4 C1909.0,2140.4 1914.0,2098.5 1919.0,2076.9 C1923.7,2056.8 1928.3,2015.4 1933.0,2015.4 C1937.5,2015.4 1942.0,2046.2 1946.5,2046.2 C1950.7,2046.2 1954.8,2008.0 1959.0,2000.0 C1964.0,1990.3 1969.0,1980.8 1974.0,1980.8 C1978.2,1980.8 1982.3,1988.2 1986.5,1996.2 C1989.8,2002.5 1993.2,2035.4 1996.5,2035.4 C2003.2,2035.4 2009.8,1984.6 2016.5,1984.6 C2020.7,1984.6 2024.8,2023.1 2029.0,2023.1 C2034.0,2023.1 2039.0,2003.4 2044.0,2001.9 C2052.3,1999.4 2060.7,1998.1 2069.0,1998.1 C2073.2,1998.1 2077.3,2027.8 2081.5,2032.3 C2084.8,2035.9 2088.2,2035.5 2091.5,2039.2 C2095.3,2043.5 2099.2,2076.9 2103.0,2076.9 C2108.0,2076.9 2113.0,2026.2 2118.0,2026.2 C2122.5,2026.2 2127.0,2066.9 2131.5,2066.9 C2133.5,2066.9 2135.5,2053.1 2137.5,2046.2" fill="none" stroke="#c23ce0" stroke-width="6" stroke-linejoin="round" stroke-linecap="round"/>
<path transform="scale(1,1.3)" d="M195.0,2151.2 C206.7,2152.1 218.3,2152.6 230.0,2153.8 C238.3,2154.7 246.7,2157.7 255.0,2157.7 C263.3,2157.7 271.7,2156.7 280.0,2155.8 C291.7,2154.5 303.3,2148.1 315.0,2148.1 C320.8,2148.1 326.7,2161.5 332.5,2161.5 C341.7,2161.5 350.8,2149.2 360.0,2149.2 C366.7,2149.2 373.3,2153.5 380.0,2157.7 C385.0,2160.9 390.0,2167.8 395.0,2175.0 C401.7,2184.7 408.3,2202.0 415.0,2215.4 C423.3,2232.1 431.7,2248.7 440.0,2265.4 C448.3,2282.1 456.7,2300.1 465.0,2315.4 C473.3,2330.7 481.7,2344.2 490.0,2357.7 C500.0,2373.8 510.0,2391.5 520.0,2403.8 C530.0,2416.2 540.0,2431.2 550.0,2434.6 C560.0,2438.0 570.0,2440.8 580.0,2440.8 C588.3,2440.8 596.7,2435.4 605.0,2430.8 C613.3,2426.1 621.7,2417.2 630.0,2407.7 C640.0,2396.2 650.0,2376.9 660.0,2361.5 C670.0,2346.2 680.0,2330.8 690.0,2315.4 C700.0,2300.0 710.0,2280.3 720.0,2269.2 C729.2,2259.1 738.3,2245.4 747.5,2245.4 C753.3,2245.4 759.2,2247.4 765.0,2250.0 C769.2,2251.9 773.3,2258.8 777.5,2265.4 C780.8,2270.6 784.2,2286.5 787.5,2286.5 C791.7,2286.5 795.8,2265.4 800.0,2265.4 C804.2,2265.4 808.3,2275.0 812.5,2275.0 C816.7,2275.0 820.8,2256.2 825.0,2246.2 C828.3,2238.1 831.7,2221.2 835.0,2221.2 C838.3,2221.2 841.7,2230.8 845.0,2230.8 C856.7,2230.8 868.3,2223.8 880.0,2221.2 C893.0,2218.2 906.0,2216.7 919.0,2213.5 C932.3,2210.1 945.7,2203.8 959.0,2200.0 C975.7,2195.2 992.3,2190.1 1009.0,2187.7 C1025.7,2185.3 1042.3,2184.3 1059.0,2182.7 C1069.0,2181.8 1079.0,2180.0 1089.0,2180.0 C1097.3,2180.0 1105.7,2185.4 1114.0,2185.4 C1119.0,2185.4 1124.0,2183.8 1129.0,2182.7 C1139.0,2180.5 1149.0,2175.7 1159.0,2173.1 C1174.0,2169.2 1189.0,2167.7 1204.0,2163.5 C1209.8,2161.8 1215.7,2156.9 1221.5,2156.9 C1229.8,2156.9 1238.2,2175.0 1246.5,2175.0 C1255.7,2175.0 1264.8,2171.1 1274.0,2167.3 C1281.5,2164.2 1289.0,2150.0 1296.5,2150.0 C1302.3,2150.0 1308.2,2151.9 1314.0,2151.9 C1317.3,2151.9 1320.7,2146.2 1324.0,2146.2 C1330.7,2146.2 1337.3,2158.5 1344.0,2158.5 C1360.7,2158.5 1377.3,2155.4 1394.0,2153.8 C1407.3,2152.6 1420.7,2150.0 1434.0,2150.0 C1437.3,2150.0 1440.7,2155.1 1444.0,2161.5 C1446.5,2166.4 1449.0,2184.6 1451.5,2200.0 C1455.3,2223.6 1459.2,2292.3 1463.0,2292.3 C1465.8,2292.3 1468.7,2263.1 1471.5,2250.0 C1475.7,2230.7 1479.8,2196.2 1484.0,2196.2 C1488.2,2196.2 1492.3,2202.5 1496.5,2207.7 C1500.3,2212.4 1504.2,2228.8 1508.0,2228.8 C1511.7,2228.8 1515.3,2214.7 1519.0,2205.4 C1524.0,2192.7 1529.0,2160.4 1534.0,2157.7 C1540.7,2154.0 1547.3,2153.8 1554.0,2151.9 C1565.7,2148.6 1577.3,2142.3 1589.0,2142.3 C1593.2,2142.3 1597.3,2147.7 1601.5,2153.8 C1605.7,2160.0 1609.8,2192.7 1614.0,2200.0 C1619.8,2210.2 1625.7,2219.2 1631.5,2219.2 C1635.7,2219.2 1639.8,2215.4 1644.0,2215.4 C1649.0,2215.4 1654.0,2263.5 1659.0,2263.5 C1664.0,2263.5 1669.0,2238.1 1674.0,2225.0 C1679.0,2211.9 1684.0,2190.5 1689.0,2184.6 C1693.2,2179.7 1697.3,2175.0 1701.5,2175.0 C1705.7,2175.0 1709.8,2183.4 1714.0,2192.3 C1719.8,2204.8 1725.7,2288.5 1731.5,2288.5 C1734.0,2288.5 1736.5,2255.9 1739.0,2238.5 C1743.2,2209.4 1747.3,2172.5 1751.5,2146.2 C1755.7,2119.8 1759.8,2076.9 1764.0,2076.9 C1766.5,2076.9 1769.0,2092.5 1771.5,2111.5 C1773.2,2124.2 1774.8,2170.2 1776.5,2200.0 C1778.7,2238.7 1780.8,2317.3 1783.0,2317.3 C1787.5,2317.3 1792.0,2248.1 1796.5,2248.1 C1801.5,2248.1 1806.5,2262.6 1811.5,2280.8 C1815.3,2294.7 1819.2,2388.5 1823.0,2388.5 C1825.3,2388.5 1827.7,2338.5 1830.0,2338.5 C1832.2,2338.5 1834.3,2400.4 1836.5,2423.1 C1840.1,2461.0 1843.8,2484.3 1847.4,2515.4 C1851.3,2548.4 1855.1,2582.4 1859.0,2615.4 C1861.0,2632.4 1863.0,2666.2 1865.0,2666.2 C1868.2,2666.2 1871.4,2638.2 1874.6,2604.6 C1875.7,2592.7 1876.9,2561.4 1878.0,2538.5 C1879.1,2516.8 1880.1,2497.4 1881.2,2470.8 C1882.3,2443.3 1883.4,2396.6 1884.5,2370.0 C1885.3,2349.9 1886.2,2325.4 1887.0,2319.2 C1889.2,2303.1 1891.3,2293.1 1893.5,2293.1 C1897.0,2293.1 1900.5,2313.8 1904.0,2313.8 C1906.3,2313.8 1908.7,2302.8 1911.0,2294.6 C1915.3,2279.5 1919.7,2248.5 1924.0,2226.9 C1927.3,2210.3 1930.7,2178.8 1934.0,2178.8 C1937.3,2178.8 1940.7,2209.6 1944.0,2209.6 C1949.0,2209.6 1954.0,2171.0 1959.0,2161.5 C1964.0,2152.1 1969.0,2141.5 1974.0,2141.5 C1978.2,2141.5 1982.3,2147.1 1986.5,2153.8 C1990.3,2160.0 1994.2,2201.9 1998.0,2201.9 C2004.2,2201.9 2010.3,2142.3 2016.5,2142.3 C2020.7,2142.3 2024.8,2188.5 2029.0,2188.5 C2034.0,2188.5 2039.0,2166.2 2044.0,2163.5 C2052.3,2158.9 2060.7,2155.8 2069.0,2155.8 C2073.2,2155.8 2077.3,2197.2 2081.5,2200.0 C2084.8,2202.2 2088.2,2201.6 2091.5,2203.8 C2095.3,2206.5 2099.2,2248.1 2103.0,2248.1 C2108.0,2248.1 2113.0,2184.6 2118.0,2184.6 C2121.7,2184.6 2125.3,2226.9 2129.0,2226.9 C2131.8,2226.9 2134.7,2219.2 2137.5,2215.4" fill="none" stroke="#2a3ad8" stroke-width="6" stroke-linejoin="round" stroke-linecap="round"/>
<line x1="635.8" y1="3253.6" x2="600.4" y2="3202.1" stroke="#222" stroke-width="1.7" stroke-dasharray="2.5,1.2"/>
<polygon points="582.3,3175.7 610.5,3200.0 594.8,3210.8" fill="#000"/>
<line x1="778.6" y1="3057.0" x2="803.4" y2="2988.7" stroke="#222" stroke-width="1.7" stroke-dasharray="2.5,1.2"/>
<polygon points="814.3,2958.6 811.0,2995.7 793.1,2989.2" fill="#000"/>
<line x1="923.7" y1="2993.2" x2="866.5" y2="2926.5" stroke="#222" stroke-width="1.7" stroke-dasharray="2.5,1.2"/>
<polygon points="845.7,2902.2 876.3,2923.4 861.9,2935.7" fill="#000"/>
<line x1="1419.0" y1="3052.5" x2="1447.1" y2="3007.2" stroke="#222" stroke-width="1.7" stroke-dasharray="2.5,1.2"/>
<polygon points="1464.0,2980.0 1453.1,3015.6 1436.9,3005.6" fill="#000"/>
<line x1="1596.5" y1="2977.5" x2="1533.0" y2="2921.2" stroke="#222" stroke-width="1.7" stroke-dasharray="2.5,1.2"/>
<polygon points="1509.0,2900.0 1542.2,2916.8 1529.7,2931.0" fill="#000"/>
<line x1="1966.5" y1="3418.5" x2="1894.0" y2="3452.4" stroke="#222" stroke-width="1.7" stroke-dasharray="2.5,1.2"/>
<polygon points="1865.0,3466.0 1893.6,3442.1 1901.6,3459.3" fill="#000"/>
<g font-size="100" style='font-family:"Liberation Sans", "Noto Sans CJK SC", sans-serif'>
<text transform="translate(27.10,129.40) scale(1.1318,1.1304)" fill="#000" stroke="#fff" stroke-width="0.9" vector-effect="non-scaling-stroke">A</text>
<text transform="translate(261.62,167.91) scale(0.5308,0.7138)" fill="#111" stroke="#fff" stroke-width="1.2" vector-effect="non-scaling-stroke">(</text>
<text transform="translate(282.15,167.91) scale(0.5385,0.6927)" fill="#000" stroke="#fff" stroke-width="0.9" vector-effect="non-scaling-stroke">a</text>
<text transform="translate(317.79,167.91) scale(0.6077,0.7138)" fill="#111" stroke="#fff" stroke-width="1.2" vector-effect="non-scaling-stroke">)</text>
<text transform="translate(253.31,430.82) scale(0.5154,0.7085)" fill="#111" stroke="#fff" stroke-width="1.2" vector-effect="non-scaling-stroke">(</text>
<text transform="translate(272.62,431.90) scale(0.6133,0.7233)" fill="#000" stroke="#fff" stroke-width="0.9" vector-effect="non-scaling-stroke">b</text>
<text transform="translate(309.39,430.82) scale(0.6115,0.7085)" fill="#111" stroke="#fff" stroke-width="1.2" vector-effect="non-scaling-stroke">)</text>
<text transform="translate(255.99,683.43) scale(0.5346,0.7128)" fill="#111" stroke="#fff" stroke-width="1.2" vector-effect="non-scaling-stroke">(</text>
<text transform="translate(276.32,683.50) scale(0.5953,0.7018)" fill="#000" stroke="#fff" stroke-width="0.9" vector-effect="non-scaling-stroke">c</text>
<text transform="translate(309.39,683.43) scale(0.6115,0.7128)" fill="#111" stroke="#fff" stroke-width="1.2" vector-effect="non-scaling-stroke">)</text>
<text transform="translate(259.32,888.00) scale(0.5308,0.7096)" fill="#111" stroke="#fff" stroke-width="1.2" vector-effect="non-scaling-stroke">(</text>
<text transform="translate(279.15,887.89) scale(0.6133,0.7081)" fill="#000" stroke="#fff" stroke-width="0.9" vector-effect="non-scaling-stroke">d</text>
<text transform="translate(317.58,888.00) scale(0.5154,0.7096)" fill="#111" stroke="#fff" stroke-width="1.2" vector-effect="non-scaling-stroke">)</text>
<text transform="translate(484.88,617.57) scale(0.5539,0.6268)" fill="#000" stroke="#fff" stroke-width="0.9" vector-effect="non-scaling-stroke">3308 cm</text>
<text transform="translate(697.12,592.60) scale(0.3200,0.4522)" fill="#000" stroke="#fff" stroke-width="0.9" vector-effect="non-scaling-stroke">-1</text>
<text transform="translate(481.48,837.57) scale(0.5539,0.6268)" fill="#000" stroke="#fff" stroke-width="0.9" vector-effect="non-scaling-stroke">3288 cm</text>
<text transform="translate(691.92,813.60) scale(0.3200,0.4536)" fill="#000" stroke="#fff" stroke-width="0.9" vector-effect="non-scaling-stroke">-1</text>
<text transform="translate(480.49,1105.76) scale(0.5515,0.6408)" fill="#000" stroke="#fff" stroke-width="0.9" vector-effect="non-scaling-stroke">3310 cm</text>
<text transform="translate(690.87,1079.80) scale(0.3325,0.4536)" fill="#000" stroke="#fff" stroke-width="0.9" vector-effect="non-scaling-stroke">-1</text>
<text transform="translate(465.77,1372.37) scale(0.5566,0.6282)" fill="#000" stroke="#fff" stroke-width="0.9" vector-effect="non-scaling-stroke">3289 cm</text>
<text transform="translate(678.17,1347.40) scale(0.3075,0.4667)" fill="#000" stroke="#fff" stroke-width="0.9" vector-effect="non-scaling-stroke">-1</text>
<text transform="translate(820.06,1288.50) scale(0.6280,0.7000)" fill="#000" stroke="#fff" stroke-width="0.9" vector-effect="non-scaling-stroke">2926 cm</text>
<text transform="translate(1058.22,1260.80) scale(0.3937,0.5014)" fill="#000" stroke="#fff" stroke-width="0.9" vector-effect="non-scaling-stroke">-1</text>
<text transform="translate(1075.20,1078.57) scale(0.5605,0.6282)" fill="#000" stroke="#fff" stroke-width="0.9" vector-effect="non-scaling-stroke">2350 cm</text>
<text transform="translate(1287.12,1053.60) scale(0.3200,0.4391)" fill="#000" stroke="#fff" stroke-width="0.9" vector-effect="non-scaling-stroke">-1</text>
<text transform="translate(1403.58,1070.43) scale(0.5523,0.6676)" fill="#000" stroke="#fff" stroke-width="0.9" vector-effect="non-scaling-stroke">1642 cm</text>
<text transform="translate(1613.22,1044.50) scale(0.3438,0.4667)" fill="#000" stroke="#fff" stroke-width="0.9" vector-effect="non-scaling-stroke">-1</text>
<text transform="translate(1474.90,1230.46) scale(0.5504,0.6437)" fill="#000" stroke="#fff" stroke-width="0.9" vector-effect="non-scaling-stroke">1298 cm</text>
<text transform="translate(1686.23,1204.70) scale(0.3175,0.4710)" fill="#000" stroke="#fff" stroke-width="0.9" vector-effect="non-scaling-stroke">-1</text>
<text transform="translate(1507.30,1345.26) scale(0.5626,0.6437)" fill="#000" stroke="#fff" stroke-width="0.9" vector-effect="non-scaling-stroke">1150 cm</text>
<text transform="translate(1719.73,1319.50) scale(0.3175,0.4420)" fill="#000" stroke="#fff" stroke-width="0.9" vector-effect="non-scaling-stroke">-1</text>
<text transform="translate(1593.58,1495.15) scale(0.5523,0.6535)" fill="#000" stroke="#fff" stroke-width="0.9" vector-effect="non-scaling-stroke">1078 cm</text>
<text transform="translate(1804.22,1468.30) scale(0.3438,0.4391)" fill="#000" stroke="#fff" stroke-width="0.9" vector-effect="non-scaling-stroke">-1</text>
<text transform="translate(1905.77,1462.27) scale(0.5652,0.6324)" fill="#000" stroke="#fff" stroke-width="0.9" vector-effect="non-scaling-stroke">995 cm</text>
<text transform="translate(2088.43,1437.50) scale(0.3175,0.4420)" fill="#000" stroke="#fff" stroke-width="0.9" vector-effect="non-scaling-stroke">-1</text>
<text transform="translate(514.02,1451.16) scale(0.5462,0.5638)" fill="#111" stroke="#fff" stroke-width="1.2" vector-effect="non-scaling-stroke">(</text>
<text transform="translate(531.82,1451.07) scale(0.5596,0.6282)" fill="#000" stroke="#fff" stroke-width="0.9" vector-effect="non-scaling-stroke">H–O</text>
<text transform="translate(647.59,1451.16) scale(0.5115,0.5638)" fill="#111" stroke="#fff" stroke-width="1.2" vector-effect="non-scaling-stroke">)</text>
<text transform="translate(829.89,1355.60) scale(0.5846,0.5617)" fill="#111" stroke="#fff" stroke-width="1.2" vector-effect="non-scaling-stroke">(</text>
<text transform="translate(848.80,1355.67) scale(0.5599,0.6296)" fill="#000" stroke="#fff" stroke-width="0.9" vector-effect="non-scaling-stroke">C–H</text>
<text transform="translate(958.72,1355.60) scale(0.5846,0.5617)" fill="#111" stroke="#fff" stroke-width="1.2" vector-effect="non-scaling-stroke">)</text>
<text transform="translate(1409.19,1147.36) scale(0.5846,0.5638)" fill="#111" stroke="#fff" stroke-width="1.2" vector-effect="non-scaling-stroke">(</text>
<text transform="translate(1427.28,1145.39) scale(0.5525,0.6141)" fill="#000" stroke="#fff" stroke-width="0.9" vector-effect="non-scaling-stroke">H–O–O</text>
<text transform="translate(1615.05,1147.36) scale(0.5462,0.5638)" fill="#111" stroke="#fff" stroke-width="1.2" vector-effect="non-scaling-stroke">)</text>
<text transform="translate(1551.22,1406.20) scale(0.5462,0.5617)" fill="#111" stroke="#fff" stroke-width="1.2" vector-effect="non-scaling-stroke">(</text>
<text transform="translate(1571.19,1406.18) scale(0.5230,0.6155)" fill="#000" stroke="#fff" stroke-width="0.9" vector-effect="non-scaling-stroke">C–O</text>
<text transform="translate(1680.85,1406.20) scale(0.5462,0.5617)" fill="#111" stroke="#fff" stroke-width="1.2" vector-effect="non-scaling-stroke">)</text>
<text transform="translate(1596.62,1557.16) scale(0.5462,0.5543)" fill="#111" stroke="#fff" stroke-width="1.2" vector-effect="non-scaling-stroke">(</text>
<text transform="translate(1615.24,1556.83) scale(0.5324,0.5732)" fill="#000" stroke="#fff" stroke-width="0.9" vector-effect="non-scaling-stroke">C–O–C</text>
<text transform="translate(1793.62,1557.16) scale(0.5846,0.5543)" fill="#111" stroke="#fff" stroke-width="1.2" vector-effect="non-scaling-stroke">)</text>
<text transform="translate(1964.78,1383.65) scale(0.5192,0.5500)" fill="#111" stroke="#fff" stroke-width="1.2" vector-effect="non-scaling-stroke">(</text>
<text transform="translate(1982.10,1383.60) scale(0.5398,0.5972)" fill="#000" stroke="#fff" stroke-width="0.9" vector-effect="non-scaling-stroke">C–O</text>
<text transform="translate(2092.55,1383.65) scale(0.5538,0.5500)" fill="#111" stroke="#fff" stroke-width="1.2" vector-effect="non-scaling-stroke">)</text>
<text transform="translate(100.07,1726.38) scale(0.9630,1.0911)" fill="#000" stroke="#fff" stroke-width="0.9" vector-effect="non-scaling-stroke">4000</text>
<text transform="translate(377.25,1726.38) scale(0.9630,1.0911)" fill="#000" stroke="#fff" stroke-width="0.9" vector-effect="non-scaling-stroke">3500</text>
<text transform="translate(655.39,1726.38) scale(0.9630,1.0911)" fill="#000" stroke="#fff" stroke-width="0.9" vector-effect="non-scaling-stroke">3000</text>
<text transform="translate(933.05,1726.38) scale(0.9630,1.0911)" fill="#000" stroke="#fff" stroke-width="0.9" vector-effect="non-scaling-stroke">2500</text>
<text transform="translate(1211.20,1726.38) scale(0.9630,1.0911)" fill="#000" stroke="#fff" stroke-width="0.9" vector-effect="non-scaling-stroke">2000</text>
<text transform="translate(1487.90,1726.38) scale(0.9630,1.0911)" fill="#000" stroke="#fff" stroke-width="0.9" vector-effect="non-scaling-stroke">1500</text>
<text transform="translate(1766.04,1726.38) scale(0.9630,1.0911)" fill="#000" stroke="#fff" stroke-width="0.9" vector-effect="non-scaling-stroke">1000</text>
<text transform="translate(2072.59,1726.38) scale(0.9630,1.0911)" fill="#000" stroke="#fff" stroke-width="0.9" vector-effect="non-scaling-stroke">500</text>
<text transform="translate(711.03,1889.91) scale(0.9736,1.0905)" fill="#000" stroke="#fff" stroke-width="0.9" vector-effect="non-scaling-stroke">Wavenumber</text>
<text transform="translate(1311.13,1890.94) scale(0.9115,1.0979)" fill="#000" stroke="#fff" stroke-width="0.9" vector-effect="non-scaling-stroke">(</text>
<text transform="translate(1343.03,1890.37) scale(0.9919,1.1291)" fill="#000" stroke="#fff" stroke-width="0.9" vector-effect="non-scaling-stroke">cm</text>
<text transform="translate(1470.80,1857.75) scale(0.8000,1.2500)" fill="#000" stroke="#fff" stroke-width="0.9" vector-effect="non-scaling-stroke">-</text>
<text transform="translate(1497.47,1843.00) scale(0.4419,0.7391)" fill="#000" stroke="#fff" stroke-width="0.9" vector-effect="non-scaling-stroke">1</text>
<text transform="translate(1536.12,1890.99) scale(0.8846,1.0957)" fill="#000" stroke="#fff" stroke-width="0.9" vector-effect="non-scaling-stroke">)</text>
<text transform="translate(133.87,1209.39) rotate(-90) scale(1.0937,1.1284)" fill="#000" stroke="#fff" stroke-width="0.9" vector-effect="non-scaling-stroke">Transmittance</text>
<text transform="translate(132.10,483.28) rotate(-90) scale(0.8308,1.0904)" fill="#000" stroke="#fff" stroke-width="0.9" vector-effect="non-scaling-stroke">(</text>
<text transform="translate(133.82,443.62) rotate(-90) scale(0.9049,1.1786)" fill="#000" stroke="#fff" stroke-width="0.9" vector-effect="non-scaling-stroke">%</text>
<text transform="translate(132.10,343.30) rotate(-90) scale(0.8000,1.0904)" fill="#000" stroke="#fff" stroke-width="0.9" vector-effect="non-scaling-stroke">)</text>
<text transform="translate(46.34,2070.40) scale(1.1453,1.1261)" fill="#000" stroke="#fff" stroke-width="0.9" vector-effect="non-scaling-stroke">B</text>
<text transform="translate(248.38,2107.14) scale(0.5192,0.6457)" fill="#111" stroke="#fff" stroke-width="1.2" vector-effect="non-scaling-stroke">(</text>
<text transform="translate(268.67,2106.01) scale(0.5827,0.5927)" fill="#000" stroke="#fff" stroke-width="0.9" vector-effect="non-scaling-stroke">a</text>
<text transform="translate(311.45,2107.14) scale(0.5462,0.6457)" fill="#111" stroke="#fff" stroke-width="1.2" vector-effect="non-scaling-stroke">)</text>
<text transform="translate(244.32,2322.99) scale(0.5462,0.6574)" fill="#111" stroke="#fff" stroke-width="1.2" vector-effect="non-scaling-stroke">(</text>
<text transform="translate(264.64,2321.95) scale(0.6149,0.6509)" fill="#000" stroke="#fff" stroke-width="0.9" vector-effect="non-scaling-stroke">e</text>
<text transform="translate(303.55,2322.99) scale(0.5462,0.6574)" fill="#111" stroke="#fff" stroke-width="1.2" vector-effect="non-scaling-stroke">)</text>
<text transform="translate(252.89,2552.77) scale(0.5346,0.6489)" fill="#111" stroke="#fff" stroke-width="1.2" vector-effect="non-scaling-stroke">(</text>
<text transform="translate(275.28,2552.60) scale(0.7222,0.6178)" fill="#000" stroke="#fff" stroke-width="0.9" vector-effect="non-scaling-stroke">f</text>
<text transform="translate(297.85,2552.77) scale(0.5462,0.6489)" fill="#111" stroke="#fff" stroke-width="1.2" vector-effect="non-scaling-stroke">)</text>
<text transform="translate(250.42,2746.09) scale(0.5462,0.6574)" fill="#111" stroke="#fff" stroke-width="1.2" vector-effect="non-scaling-stroke">(</text>
<text transform="translate(270.71,2745.99) scale(0.6222,0.6432)" fill="#000" stroke="#fff" stroke-width="0.9" vector-effect="non-scaling-stroke">g</text>
<text transform="translate(311.67,2746.09) scale(0.5308,0.6574)" fill="#111" stroke="#fff" stroke-width="1.2" vector-effect="non-scaling-stroke">)</text>
<text transform="translate(704.94,3111.49) scale(0.5925,0.6085)" fill="#000" stroke="#fff" stroke-width="0.9" vector-effect="non-scaling-stroke">2892 cm</text>
<text transform="translate(932.88,3088.30) scale(0.3538,0.4101)" fill="#000" stroke="#fff" stroke-width="0.9" vector-effect="non-scaling-stroke">-1</text>
<text transform="translate(858.32,3051.99) scale(0.5965,0.6085)" fill="#000" stroke="#fff" stroke-width="0.9" vector-effect="non-scaling-stroke">2832 cm</text>
<text transform="translate(1086.29,3027.20) scale(0.3537,0.3884)" fill="#000" stroke="#fff" stroke-width="0.9" vector-effect="non-scaling-stroke">-1</text>
<text transform="translate(599.84,3315.19) scale(0.5895,0.6099)" fill="#000" stroke="#fff" stroke-width="0.9" vector-effect="non-scaling-stroke">3303 cm</text>
<text transform="translate(828.29,3291.00) scale(0.3537,0.4101)" fill="#000" stroke="#fff" stroke-width="0.9" vector-effect="non-scaling-stroke">-1</text>
<text transform="translate(1201.85,3111.39) scale(0.5813,0.6085)" fill="#000" stroke="#fff" stroke-width="0.9" vector-effect="non-scaling-stroke">1724 cm</text>
<text transform="translate(1428.19,3086.00) scale(0.3525,0.3768)" fill="#000" stroke="#fff" stroke-width="0.9" vector-effect="non-scaling-stroke">-1</text>
<text transform="translate(1498.56,3033.39) scale(0.5927,0.6085)" fill="#000" stroke="#fff" stroke-width="0.9" vector-effect="non-scaling-stroke">1643 cm</text>
<text transform="translate(1724.99,3008.00) scale(0.3525,0.3478)" fill="#000" stroke="#fff" stroke-width="0.9" vector-effect="non-scaling-stroke">-1</text>
<text transform="translate(1891.06,3409.30) scale(0.5886,0.6014)" fill="#000" stroke="#fff" stroke-width="0.9" vector-effect="non-scaling-stroke">998 cm</text>
<text transform="translate(2086.18,3387.00) scale(0.3312,0.4522)" fill="#000" stroke="#fff" stroke-width="0.9" vector-effect="non-scaling-stroke">-1</text>
<text transform="translate(532.55,3381.93) scale(0.8364,0.5638)" fill="#333" font-weight="100">（</text>
<text transform="translate(619.88,3383.35) scale(0.6399,0.6549)" fill="#000" stroke="#fff" stroke-width="0.9" vector-effect="non-scaling-stroke">H–O</text>
<text transform="translate(759.42,3381.93) scale(0.8364,0.5638)" fill="#333" font-weight="100">）</text>
<text transform="translate(1182.59,3168.60) scale(0.7727,0.4894)" fill="#333" font-weight="100">（</text>
<text transform="translate(1268.18,3170.02) scale(0.6638,0.5789)" fill="#000" stroke="#fff" stroke-width="0.9" vector-effect="non-scaling-stroke">C=O</text>
<text transform="translate(1414.89,3168.60) scale(0.7818,0.4894)" fill="#333" font-weight="100">）</text>
<text transform="translate(1473.30,3096.88) scale(0.8864,0.4574)" fill="#333" font-weight="100">（</text>
<text transform="translate(1565.25,3098.45) scale(0.6558,0.5493)" fill="#000" stroke="#fff" stroke-width="0.9" vector-effect="non-scaling-stroke">H–O–H</text>
<text transform="translate(1786.95,3096.88) scale(0.8909,0.4574)" fill="#333" font-weight="100">）</text>
<text transform="translate(1833.95,3345.21) scale(0.8636,0.5319)" fill="#333" font-weight="100">（</text>
<text transform="translate(1924.06,3346.66) scale(0.6480,0.6408)" fill="#000" stroke="#fff" stroke-width="0.9" vector-effect="non-scaling-stroke">C–O</text>
<text transform="translate(2061.18,3345.21) scale(0.9045,0.5319)" fill="#333" font-weight="100">）</text>
<text transform="translate(80.04,3637.54) scale(1.0360,0.9863)" fill="#000" stroke="#fff" stroke-width="0.9" vector-effect="non-scaling-stroke">4000</text>
<text transform="translate(357.72,3637.54) scale(1.0360,0.9863)" fill="#000" stroke="#fff" stroke-width="0.9" vector-effect="non-scaling-stroke">3500</text>
<text transform="translate(636.43,3637.54) scale(1.0360,0.9863)" fill="#000" stroke="#fff" stroke-width="0.9" vector-effect="non-scaling-stroke">3000</text>
<text transform="translate(914.63,3637.54) scale(1.0360,0.9863)" fill="#000" stroke="#fff" stroke-width="0.9" vector-effect="non-scaling-stroke">2500</text>
<text transform="translate(1193.34,3637.54) scale(1.0360,0.9863)" fill="#000" stroke="#fff" stroke-width="0.9" vector-effect="non-scaling-stroke">2000</text>
<text transform="translate(1470.50,3637.54) scale(1.0360,0.9863)" fill="#000" stroke="#fff" stroke-width="0.9" vector-effect="non-scaling-stroke">1500</text>
<text transform="translate(1749.22,3637.54) scale(1.0360,0.9863)" fill="#000" stroke="#fff" stroke-width="0.9" vector-effect="non-scaling-stroke">1000</text>
<text transform="translate(2058.49,3637.54) scale(1.0360,0.9863)" fill="#000" stroke="#fff" stroke-width="0.9" vector-effect="non-scaling-stroke">500</text>
<text transform="translate(710.75,3775.59) scale(1.0474,1.0081)" fill="#000" stroke="#fff" stroke-width="0.9" vector-effect="non-scaling-stroke">Wavenumber</text>
<text transform="translate(1357.83,3775.78) scale(0.9115,1.0106)" fill="#000" stroke="#fff" stroke-width="0.9" vector-effect="non-scaling-stroke">(</text>
<text transform="translate(1392.87,3775.55) scale(1.0325,1.0473)" fill="#000" stroke="#fff" stroke-width="0.9" vector-effect="non-scaling-stroke">cm</text>
<text transform="translate(1529.78,3736.95) scale(0.6800,0.8500)" fill="#000" stroke="#fff" stroke-width="0.9" vector-effect="non-scaling-stroke">-</text>
<text transform="translate(1557.52,3734.30) scale(0.4721,0.7362)" fill="#000" stroke="#fff" stroke-width="0.9" vector-effect="non-scaling-stroke">1</text>
<text transform="translate(1601.15,3775.78) scale(0.8462,1.0106)" fill="#000" stroke="#fff" stroke-width="0.9" vector-effect="non-scaling-stroke">)</text>
<text transform="translate(136.49,3041.16) rotate(-90) scale(1.0311,1.0135)" fill="#000" stroke="#fff" stroke-width="0.9" vector-effect="non-scaling-stroke">Transmittance</text>
<text transform="translate(136.46,2363.68) rotate(-90) scale(0.8962,1.0021)" fill="#000" stroke="#fff" stroke-width="0.9" vector-effect="non-scaling-stroke">(</text>
<text transform="translate(137.23,2328.95) rotate(-90) scale(0.9877,1.0714)" fill="#000" stroke="#fff" stroke-width="0.9" vector-effect="non-scaling-stroke">%</text>
<text transform="translate(136.46,2233.43) rotate(-90) scale(0.9308,1.0021)" fill="#000" stroke="#fff" stroke-width="0.9" vector-effect="non-scaling-stroke">)</text>
</g>
</svg></body></html>
